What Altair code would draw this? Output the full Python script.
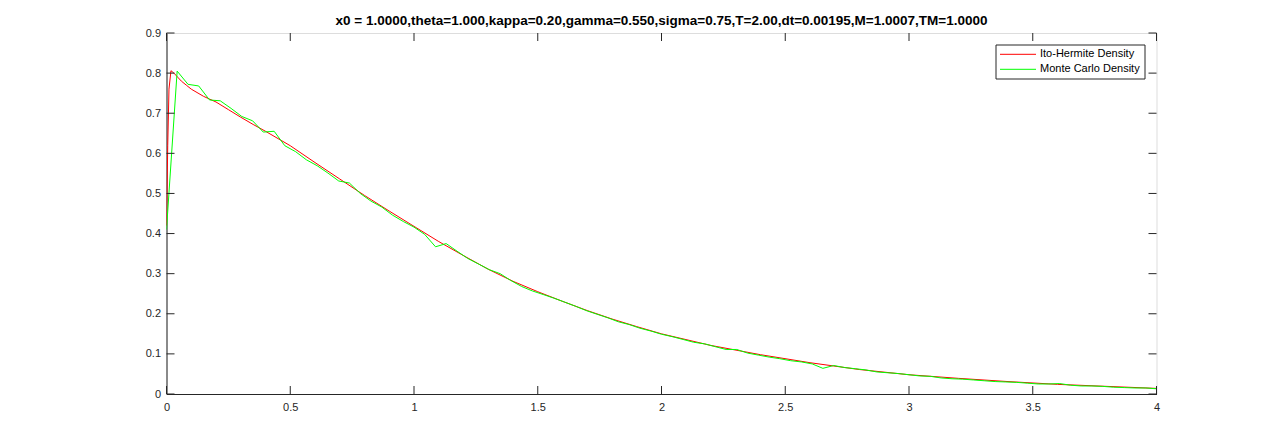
import altair as alt
import numpy as np
import pandas as pd

TITLE = "x0 = 1.0000,theta=1.000,kappa=0.20,gamma=0.550,sigma=0.75,T=2.00,dt=0.00195,M=1.0007,TM=1.0000"
series_names = ["Ito-Hermite Density", "Monte Carlo Density"]
series_colors = ["#ff0000", "#00ff00"]

# Ito-Hermite density (smooth curve)
red_x = [0.0, 0.005, 0.01, 0.018, 0.03, 0.045, 0.06, 0.08, 0.1, 0.15, 0.2, 0.25, 0.3, 0.35, 0.4,
         0.5, 0.6, 0.7, 0.8, 0.9, 1.0, 1.1, 1.2, 1.3, 1.4, 1.5, 1.6, 1.7, 1.8, 1.9, 2.0,
         2.2, 2.4, 2.6, 2.8, 3.0, 3.2, 3.4, 3.6, 3.8, 4.0]
red_y = [0.42, 0.62, 0.76, 0.806, 0.800, 0.790, 0.780, 0.770, 0.760, 0.742, 0.728, 0.709, 0.690, 0.672, 0.655,
         0.619, 0.577, 0.536, 0.495, 0.456, 0.418, 0.380, 0.345, 0.311, 0.281, 0.255, 0.231, 0.208, 0.187, 0.168, 0.150,
         0.121, 0.098, 0.078, 0.061, 0.048, 0.039, 0.031, 0.024, 0.019, 0.014]

# Monte Carlo density (histogram bins)
mc_x = [0.000, 0.043, 0.087, 0.130, 0.174, 0.217, 0.261, 0.304, 0.348, 0.391,
        0.435, 0.478, 0.522, 0.565, 0.609, 0.652, 0.696, 0.739, 0.783, 0.826,
        0.870, 0.913, 0.957, 1.000, 1.043, 1.087, 1.130, 1.174, 1.217, 1.261,
        1.304, 1.348, 1.391, 1.435, 1.478, 1.522, 1.565, 1.609, 1.652, 1.696,
        1.739, 1.783, 1.826, 1.870, 1.913, 1.957, 2.000, 2.043, 2.087, 2.130,
        2.174, 2.217, 2.261, 2.304, 2.348, 2.391, 2.435, 2.478, 2.522, 2.565,
        2.609, 2.652, 2.696, 2.739, 2.783, 2.826, 2.870, 2.913, 2.957, 3.000,
        3.043, 3.087, 3.130, 3.174, 3.217, 3.261, 3.304, 3.348, 3.391, 3.435,
        3.478, 3.522, 3.565, 3.609, 3.652, 3.696, 3.739, 3.783, 3.826, 3.870,
        3.913, 3.957, 4.000]
mc_y = [0.410, 0.805, 0.772, 0.768, 0.733, 0.731, 0.712, 0.692, 0.681, 0.653,
        0.655, 0.619, 0.604, 0.584, 0.569, 0.551, 0.531, 0.526, 0.500, 0.481,
        0.466, 0.446, 0.430, 0.416, 0.398, 0.367, 0.375, 0.356, 0.338, 0.324,
        0.310, 0.300, 0.283, 0.268, 0.257, 0.248, 0.239, 0.229, 0.219, 0.208,
        0.199, 0.190, 0.180, 0.173, 0.164, 0.157, 0.149, 0.143, 0.136, 0.129,
        0.125, 0.118, 0.111, 0.111, 0.102, 0.097, 0.092, 0.088, 0.083, 0.080,
        0.075, 0.064, 0.071, 0.066, 0.063, 0.060, 0.055, 0.053, 0.051, 0.048,
        0.045, 0.044, 0.040, 0.038, 0.037, 0.035, 0.033, 0.031, 0.030, 0.029,
        0.027, 0.025, 0.025, 0.026, 0.022, 0.020, 0.020, 0.019, 0.017, 0.016,
        0.015, 0.015, 0.013]

x_ticks = [0, 0.5, 1, 1.5, 2, 2.5, 3, 3.5, 4]
y_ticks = [0, 0.1, 0.2, 0.3, 0.4, 0.5, 0.6, 0.7, 0.8, 0.9]

W, H = 990, 361
FONT = "Liberation Sans"
AX = "#262626"
TL = 8

df = pd.concat([
    pd.DataFrame({"x": red_x, "y": red_y, "series": series_names[0], "o": range(len(red_x))}),
    pd.DataFrame({"x": mc_x, "y": mc_y, "series": series_names[1], "o": range(len(mc_x))}),
])

xs = alt.Scale(domain=[0, 4], nice=False, zero=False)
ys = alt.Scale(domain=[0, 0.9], nice=False, zero=False)

xaxis = alt.Axis(values=x_ticks, ticks=False, grid=False, title=None, domainColor=AX,
                 labelColor=AX, labelFontSize=11, labelFont=FONT, labelPadding=7,
                 labelExpr="datum.value", labelFlush=False)
yaxis = alt.Axis(values=y_ticks, ticks=False, grid=False, title=None, domainColor=AX,
                 labelColor=AX, labelFontSize=11, labelFont=FONT, labelPadding=6,
                 labelExpr="datum.value", labelFlush=False)

lines = alt.Chart(df).mark_line(strokeWidth=1, clip=True).encode(
    x=alt.X("x:Q", scale=xs, axis=xaxis),
    y=alt.Y("y:Q", scale=ys, axis=yaxis),
    color=alt.Color("series:N", scale=alt.Scale(domain=series_names, range=series_colors), legend=None),
    order="o:Q",
)

xt = pd.DataFrame({"v": x_ticks})
yt = pd.DataFrame({"v": y_ticks})
tb = alt.Chart(xt).mark_rule(color=AX, strokeWidth=1).encode(
    x=alt.X("v:Q", scale=xs), y=alt.value(H), y2=alt.value(H - TL))
tt = alt.Chart(xt).mark_rule(color=AX, strokeWidth=1).encode(
    x=alt.X("v:Q", scale=xs), y=alt.value(0), y2=alt.value(TL))
tl = alt.Chart(yt).mark_rule(color=AX, strokeWidth=1).encode(
    y=alt.Y("v:Q", scale=ys), x=alt.value(0), x2=alt.value(TL))
tr = alt.Chart(yt).mark_rule(color=AX, strokeWidth=1).encode(
    y=alt.Y("v:Q", scale=ys), x=alt.value(W), x2=alt.value(W - TL))

# manual legend
LX, LY, LW, LH = 829.5, 12, 149, 34
leg_box = alt.Chart(pd.DataFrame({"a": [0]})).mark_rect(
    fill="white", stroke=AX, strokeWidth=1).encode(
    x=alt.value(LX), x2=alt.value(LX + LW), y=alt.value(LY), y2=alt.value(LY + LH))
leg_layers = [leg_box]
for i, (name, col) in enumerate(zip(series_names, series_colors)):
    yy = LY + 9.3 + 15 * i
    ld = pd.DataFrame({"name": [name]})
    leg_layers.append(alt.Chart(ld).mark_rule(color=col, strokeWidth=1).encode(
        x=alt.value(LX + 4), x2=alt.value(LX + 40), y=alt.value(yy)))
    leg_layers.append(alt.Chart(ld).mark_text(align="left", baseline="middle", font=FONT,
                                             fontSize=11, color="#000000").encode(
        x=alt.value(LX + 44), y=alt.value(yy), text="name:N"))

chart = alt.layer(lines, tb, tt, tl, tr, *leg_layers).properties(
    width=W, height=H,
    title=alt.TitleParams(TITLE, font=FONT, fontSize=13.5, fontWeight="bold", color="#000000",
                          anchor="middle", offset=0),
    autosize=alt.AutoSizeParams(type="none"),
    padding={"left": 158.5, "top": 25, "right": 100, "bottom": 40},
).configure_view(stroke=AX, strokeWidth=1).configure(background="white")

chart.save("out.html", embed_options={"renderer": "svg", "actions": False})
